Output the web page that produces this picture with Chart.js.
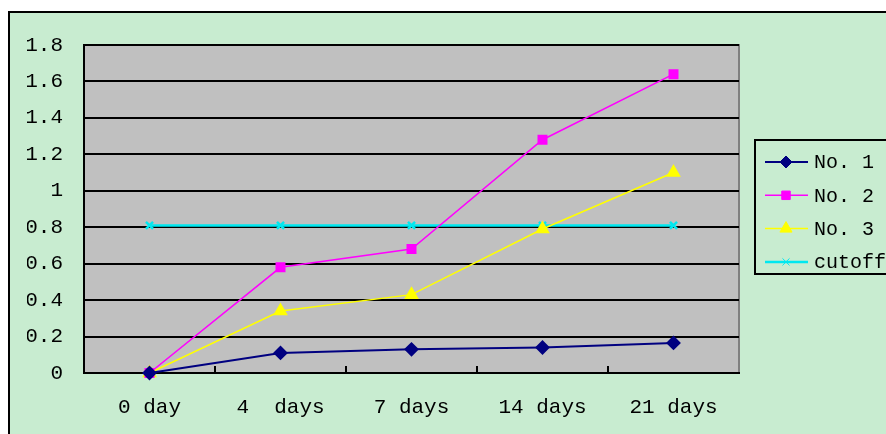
<!DOCTYPE html>
<html>
<head>
<meta charset="utf-8">
<script src="https://cdn.jsdelivr.net/npm/chart.js@4.4.1/dist/chart.umd.min.js"></script>
<style>
    html, body { margin: 0; padding: 0; background: #ffffff; overflow: hidden; }
    #frame {
        position: absolute; left: 8px; top: 11px; width: 900px; height: 440px;
        border: 2px solid #000000; background: #c8ecd0;
    }
    #wrap { position: absolute; left: 0; top: 0; width: 886px; height: 434px; }
</style>
</head>
<body>
<div id="frame"></div>
<div id="wrap"><canvas id="js-chart" width="886" height="434"></canvas></div>
<script>
// Daten
const categories = ['0 day', '4  days', '7 days', '14 days', '21 days'];
const no1 = [0, 0.11, 0.13, 0.14, 0.165];
const no2 = [0, 0.58, 0.68, 1.28, 1.64];
const no3 = [0, 0.34, 0.43, 0.79, 1.10];
const cutoff = [0.81, 0.81, 0.81, 0.81, 0.81];
const seriesNames = ['No. 1', 'No. 2', 'No. 3', 'cutoff'];
const yMin = 0;
const yMax = 1.8;
const yStep = 0.2;

const FONT = {family: '"Liberation Mono", monospace', size: 21};
const LEGEND_FONT = '20px "Liberation Mono", monospace';

// Hintergrund der Zeichenfläche
const plotBackground = {
    id: 'plotBackground',
    beforeDraw(chart) {
        const {ctx, chartArea: a} = chart;
        ctx.save();
        ctx.fillStyle = '#c0c0c0';
        ctx.fillRect(a.left, a.top, a.right - a.left, a.bottom - a.top);
        ctx.strokeStyle = '#808080';
        ctx.lineWidth = 2;
        ctx.strokeRect(a.left, a.top, a.right - a.left, a.bottom - a.top);
        ctx.restore();
    }
};

// kleine Striche an der x-Achse (nach innen)
const innerTicks = {
    id: 'innerTicks',
    afterDatasetsDraw(chart) {
        const {ctx, chartArea: a} = chart;
        const x = chart.scales.x;
        ctx.save();
        ctx.strokeStyle = '#000000';
        ctx.lineWidth = 2;
        for (let i = 1; i < categories.length; i++) {
            const px = Math.round(x.getPixelForValue(i - 0.5));
            ctx.beginPath();
            ctx.moveTo(px, a.bottom);
            ctx.lineTo(px, a.bottom - 7);
            ctx.stroke();
        }
        ctx.restore();
    }
};

// Legende mit Rahmen
const boxLegend = {
    id: 'boxLegend',
    afterDraw(chart) {
        const {ctx} = chart;
        const left = 755, top = 140, bottom = 274;
        ctx.save();
        ctx.strokeStyle = '#000000';
        ctx.lineWidth = 2;
        ctx.strokeRect(left, top, 200, bottom - top);
        ctx.font = LEGEND_FONT;
        ctx.textBaseline = 'middle';
        chart.data.datasets.forEach((ds, i) => {
            const y = 162 + i * 33.3;
            ctx.strokeStyle = ds.borderColor;
            ctx.lineWidth = ds.borderWidth;
            ctx.beginPath();
            ctx.moveTo(765, y);
            ctx.lineTo(808, y);
            ctx.stroke();
            ctx.fillStyle = ds.pointBackgroundColor;
            ctx.strokeStyle = ds.borderColor;
            ctx.lineWidth = 1;
            Chart.helpers.drawPoint(ctx, {
                pointStyle: ds.pointStyle, radius: ds.pointRadius, rotation: 0, borderWidth: 1
            }, 786, y);
            ctx.fillStyle = '#000000';
            ctx.fillText(ds.label, 814, y + 1);
        });
        ctx.restore();
    }
};

const ctx = document.getElementById('js-chart').getContext('2d');
const chart = new Chart(ctx, {
    type: 'line',
    data: {
        labels: categories,
        datasets: [
            {
                label: seriesNames[0], data: no1,
                borderColor: '#000080', pointBackgroundColor: '#000080',
                borderWidth: 2, pointStyle: 'rectRot', pointRadius: 6
            },
            {
                label: seriesNames[1], data: no2,
                borderColor: '#ff00ff', pointBackgroundColor: '#ff00ff',
                borderWidth: 1.5, pointStyle: 'rect', pointRadius: 6
            },
            {
                label: seriesNames[2], data: no3,
                borderColor: '#ffff00', pointBackgroundColor: '#ffff00',
                borderWidth: 1.5, pointStyle: 'triangle', pointRadius: 7
            },
            {
                label: seriesNames[3], data: cutoff,
                borderColor: '#00e8f0', pointBackgroundColor: '#00e8f0',
                borderWidth: 2.5, pointStyle: 'crossRot', pointRadius: 5
            }
        ]
    },
    options: {
        responsive: false,
        animation: false,
        clip: false,
        layout: {padding: {left: 27, right: 147, top: 45, bottom: 14}},
        elements: {line: {tension: 0}, point: {borderWidth: 1, hoverRadius: 6}},
        plugins: {legend: {display: false}, tooltip: {enabled: false}},
        scales: {
            x: {
                offset: true,
                grid: {display: false, drawTicks: false},
                border: {display: true, color: '#000000', width: 2},
                ticks: {color: '#000000', font: FONT, padding: 22, maxRotation: 0, autoSkip: false},
                afterFit: (scale) => { scale.height = 47; }
            },
            y: {
                min: yMin, max: yMax,
                grid: {color: '#000000', lineWidth: 2, drawTicks: false},
                border: {display: true, color: '#000000', width: 2},
                ticks: {
                    stepSize: yStep, color: '#000000', font: FONT, padding: 21,
                    callback: (v) => String(Math.round(v * 10) / 10)
                },
                afterFit: (scale) => { scale.width = 57; }
            }
        }
    },
    plugins: [plotBackground, innerTicks, boxLegend]
});
</script>
</body>
</html>
